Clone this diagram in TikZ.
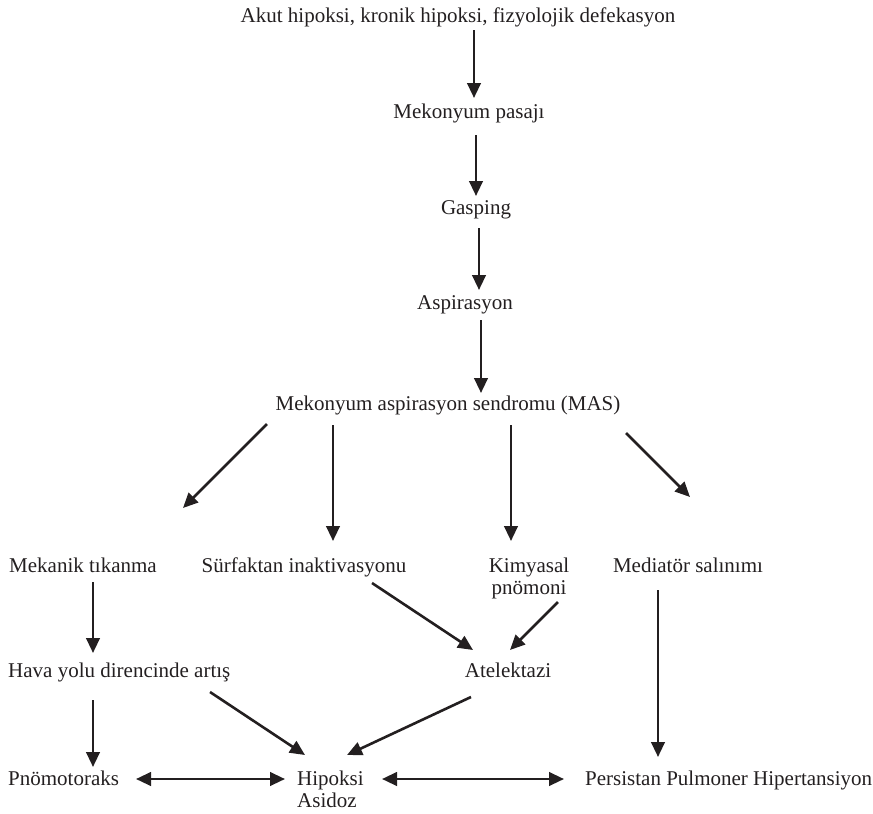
\documentclass[tikz,border=0pt]{standalone}
\usepackage{fontspec}
\setmainfont{Liberation Serif}
\usetikzlibrary{arrows.meta}
\definecolor{ink}{HTML}{231F20}

\begin{document}
\begin{tikzpicture}[x=1pt,y=-1pt,
	lbl/.style={inner sep=0pt,font=\fontsize{21}{22}\selectfont,text=ink},
	arr/.style={-{Triangle[length=15pt,width=13.5pt]},line width=2.6pt,draw=ink},
	dbl/.style={{Triangle[length=15pt,width=13.5pt]}-{Triangle[length=15pt,width=13.5pt]},line width=2.6pt,draw=ink}]
	\useasboundingbox (0,0) rectangle (873,814);

	\node[lbl,anchor=base] (akut) at (458,22) {Akut hipoksi, kronik hipoksi, fizyolojik defekasyon};
	\node[lbl,anchor=base] (pasaj) at (469,118) {Mekonyum pasajı};
	\node[lbl,anchor=base] (gasp) at (476,214) {Gasping};
	\node[lbl,anchor=base] (aspir) at (465,309) {Aspirasyon};
	\node[lbl,anchor=base] (mas) at (448,410) {Mekonyum aspirasyon sendromu (MAS)};

	\node[lbl,anchor=base west] (mekanik) at (9,572) {Mekanik tıkanma};
	\node[lbl,anchor=base] (surf) at (304,572) {Sürfaktan inaktivasyonu};
	\node[lbl,anchor=base,align=center] (kimya) at (529,594) {Kimyasal\\pnömoni};
	\node[lbl,anchor=base] (mediator) at (688,572) {Mediatör salınımı};

	\node[lbl,anchor=base west] (hava) at (8,677) {Hava yolu direncinde artış};
	\node[lbl,anchor=base] (atel) at (508,677) {Atelektazi};

	\node[lbl,anchor=base west] (pnomo) at (8,785) {Pnömotoraks};
	\node[lbl,anchor=base west,align=left] (hipoksi) at (297,807) {Hipoksi\\Asidoz};
	\node[lbl,anchor=base west] (persis) at (585,785) {Persistan Pulmoner Hipertansiyon};

	% main chain
	\draw [arr] ([xshift=16pt,yshift=-8pt]akut.base) -- ([xshift=5pt,yshift=20pt]pasaj.base);
	\draw [arr] ([xshift=7pt,yshift=-17pt]pasaj.base) -- ([yshift=18pt]gasp.base);
	\draw [arr] ([xshift=3pt,yshift=-14pt]gasp.base) -- ([xshift=14pt,yshift=19pt]aspir.base);
	\draw [arr] ([xshift=16pt,yshift=-11pt]aspir.base) -- ([xshift=33pt,yshift=17pt]mas.base);

	% MAS branches
	\draw [arr] ([xshift=-181pt,yshift=-14pt]mas.base) -- ([xshift=174pt,yshift=64pt]mekanik.base west);
	\draw [arr] ([xshift=-115pt,yshift=-15pt]mas.base) -- ([xshift=29pt,yshift=31pt]surf.base);
	\draw [arr] ([xshift=63pt,yshift=-15pt]mas.base) -- ([xshift=-18pt,yshift=53pt]kimya.base);
	\draw [arr] ([xshift=178pt,yshift=-23pt]mas.base) -- ([xshift=2pt,yshift=75pt]mediator.base);

	\draw [arr] ([xshift=84pt,yshift=-10pt]mekanik.base west) -- ([xshift=85pt,yshift=24pt]hava.base west);
	\draw [arr] ([xshift=68pt,yshift=-11pt]surf.base) -- ([xshift=-35pt,yshift=27pt]atel.base);
	\draw [arr] ([xshift=29pt,yshift=-8pt]kimya.base) -- ([xshift=2pt,yshift=27pt]atel.base);
	\draw [arr] ([xshift=-30pt,yshift=-18pt]mediator.base) -- ([xshift=73pt,yshift=28pt]persis.base west);

	\draw [arr] ([xshift=85pt,yshift=-23pt]hava.base west) -- ([xshift=85pt,yshift=18pt]pnomo.base west);
	\draw [arr] ([xshift=202pt,yshift=-15pt]hava.base west) -- ([xshift=8pt,yshift=52pt]hipoksi.base west);
	\draw [arr] ([xshift=-37pt,yshift=-20pt]atel.base) -- ([xshift=50pt,yshift=52pt]hipoksi.base west);

	% both ways
	\draw [dbl] ([xshift=128pt,yshift=6pt]pnomo.base west) -- ([xshift=-12pt,yshift=28pt]hipoksi.base west);
	\draw [dbl] ([xshift=85pt,yshift=28pt]hipoksi.base west) -- ([xshift=-21pt,yshift=6pt]persis.base west);

\end{tikzpicture}
\end{document}
